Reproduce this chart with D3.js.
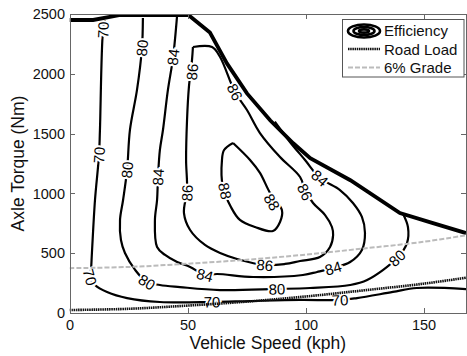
<!DOCTYPE html>
<meta charset="utf-8">
<style>
body { margin: 0; background: #fff; }
svg { font-family: "Liberation Sans", Arial, sans-serif; }
.axis path, .axis line { stroke: #666; shape-rendering: crispEdges; }
.axis text { font-size: 14.5px; fill: #111; }
.contour { fill: none; stroke: #000; stroke-width: 2.2px; }
.clab { font-size: 15px; text-anchor: middle; dominant-baseline: central; fill: #000;
        stroke: #fff; stroke-width: 4px; paint-order: stroke; }
.title { font-size: 17.5px; fill: #111; text-anchor: middle; }
.legend text { font-size: 15px; fill: #111; }
</style>
<body>
<script src="https://d3js.org/d3.v7.min.js"></script>
<script>

// tick values
var speedTicks = [0, 50, 100, 150];
var torqueTicks = [0, 500, 1000, 1500, 2000, 2500];

// max axle torque envelope [speed kph, torque Nm]
var maxTorque = [[0,2450],[10,2450],[21,2490],[50.5,2490],[59.5,2345],[66.7,2087],[75.2,1836],
  [85,1611],[94.8,1419],[102,1294],[119,1110],[140,836],[154,751],[168,668]];

// road load and 6% grade curves
var roadLoad = [[0,25],[25,35],[50,62],[75,95],[100,138],[125,190],[150,245],[168,295]];
var grade6 = [[0,375],[25,385],[50,412],[75,445],[100,488],[125,540],[150,595],[168,650]];

// efficiency contours (%)
var eff70 = [[15,2450],[14.2,2366],[12.9,1530],[12.5,1321],[10.8,945],[9.5,502],[9.1,360],[8.7,301],
  [10.8,234],[15.9,176],[24.4,125],[38.3,92],[60.4,92],[76.5,100],[97.7,109],[114.6,109],
  [121.8,125],[137,176],[147.2,209],[168.4,200]];
var eff80 = [[31.1,2466],[30.7,2216],[28.6,1865],[25.6,1530],[24.4,1196],[22.7,945],[21.4,778],
  [21.8,610],[23.5,502],[27.8,360],[32.8,259],[38.3,234],[46.8,217],[63.8,192],[87.9,201],
  [101.9,209],[118.9,234],[126.1,276],[138.8,460],[143,585],[143.4,719],[141.3,830]];
var eff84 = [[45.6,2490],[43.9,2140],[41.7,1865],[39.6,1530],[38.3,1363],[37.5,1137],[37.1,945],
  [36.2,778],[37.1,552],[40.5,485],[45.6,426],[51.1,385],[57.4,318],[62.5,326],[77.8,301],
  [98.9,318],[104.9,343],[111.7,376],[118.9,426],[123.9,527],[125.2,669],[123.9,803],
  [120.1,920],[114.6,1028],[106.1,1129],[99.8,1279],[93.4,1430],[87,1600]];
var eff86 = [[52.3,2224],[51.9,2115],[50.6,1890],[49.8,1614],[49.4,1279],[49.8,1028],[48.5,836],
  [51.1,694],[57.4,569],[63.8,502],[71,452],[82.8,401],[91.3,410],[97.7,435],[106.1,468],
  [110.4,552],[111.7,652],[111.2,719],[108.3,819],[103.2,920],[99.8,1028],[97.7,1137],
  [89.2,1304],[80.7,1505],[75.2,1697],[70.1,1848],[63.8,2140],[60.4,2224],[52.3,2224]];
var eff88 = [[69.3,1421],[76.5,1279],[80.7,1171],[85,1003],[90,861],[89.2,761],[86.2,686],
  [78.6,719],[72.2,778],[68.4,886],[65,1053],[64.6,1279],[65.5,1363],[69.3,1421]];

var levels = [70, 80, 84, 86, 88];
var contours = [eff70, eff80, eff84, eff86, eff88];

// contour label positions [speed, torque, level]
var effLabels = [[14.2,2366,70],[12.5,1321,70],[8.7,301,70],[60.4,92,70],[114.6,109,70],
  [30.7,2216,80],[24.4,1196,80],[32.8,259,80],[87.9,201,80],[138.8,460,80],
  [43.9,2140,84],[37.5,1137,84],[57.4,318,84],[111.7,376,84],[106.1,1129,84],
  [51.9,2015,86],[49.8,1003,86],[82.8,401,86],[99.8,1012,86],[70.1,1848,86],
  [65.9,1020,88],[85.8,928,88]];

var legendNames = ["Efficiency", "Road Load", "6% Grade"];

var margin = {top: 14, right: 1, bottom: 43, left: 69.5},
    width = 467 - margin.left - margin.right,
    height = 356 - margin.top - margin.bottom;

var x = d3.scaleLinear().domain([0, 168]).range([0, width]);
var y = d3.scaleLinear().domain([0, 2500]).range([height, 0]);

var line = d3.line()
    .x(function(d) { return x(d[0]); })
    .y(function(d) { return y(d[1]); })
    .curve(d3.curveCatmullRom.alpha(0.5));

var svg = d3.select("body").append("svg")
    .attr("width", 467).attr("height", 356);

svg.append("defs").append("clipPath").attr("id", "clip")
  .append("rect").attr("width", width).attr("height", height);

var g = svg.append("g")
    .attr("transform", "translate(" + margin.left + "," + margin.top + ")");

var plot = g.append("g").attr("clip-path", "url(#clip)");

// contour lines
plot.selectAll(".contour").data(contours).enter()
  .append("path").attr("class", "contour").attr("d", line);

// contour labels, rotated along the local direction of the line
effLabels.forEach(function(l) {
  var pts = contours[levels.indexOf(l[2])];
  var px = x(l[0]), py = y(l[1]);
  var best = 0, bd = Infinity;
  pts.forEach(function(p, i) {
    var d = (x(p[0]) - px) * (x(p[0]) - px) + (y(p[1]) - py) * (y(p[1]) - py);
    if (d < bd) { bd = d; best = i; }
  });
  var a = pts[Math.max(best - 1, 0)], b = pts[Math.min(best + 1, pts.length - 1)];
  var ang = Math.atan2(y(b[1]) - y(a[1]), x(b[0]) - x(a[0])) * 180 / Math.PI;
  if (ang >= 90) ang -= 180;
  if (ang < -90) ang += 180;
  plot.append("text").attr("class", "clab")
      .attr("transform", "translate(" + px + "," + py + ") rotate(" + ang + ")")
      .text(l[2]);
});

// max torque envelope
plot.append("path").datum(maxTorque)
    .attr("d", line.curve(d3.curveLinear))
    .attr("fill", "none").attr("stroke", "#000").attr("stroke-width", 3.8);

// road load
plot.append("path").datum(roadLoad)
    .attr("d", line.curve(d3.curveCatmullRom))
    .attr("fill", "none").attr("stroke", "#111").attr("stroke-width", 2.6)
    .attr("stroke-dasharray", "1.5,0.7");

// 6% grade
plot.append("path").datum(grade6)
    .attr("d", line)
    .attr("fill", "none").attr("stroke", "#bbb").attr("stroke-width", 2)
    .attr("stroke-dasharray", "5,2");

// axes (ticks inside, box on)
var fmt = d3.format("d");
g.append("g").attr("class", "axis")
    .attr("transform", "translate(0," + height + ")")
    .call(d3.axisBottom(x).tickValues(speedTicks).tickFormat(fmt)
      .tickSize(-5).tickSizeOuter(0).tickPadding(7));
g.append("g").attr("class", "axis")
    .call(d3.axisTop(x).tickValues(speedTicks).tickSize(-5).tickSizeOuter(0).tickFormat(""));
g.append("g").attr("class", "axis")
    .call(d3.axisLeft(y).tickValues(torqueTicks).tickFormat(fmt)
      .tickSize(-5).tickSizeOuter(0).tickPadding(4.5));
g.append("g").attr("class", "axis")
    .attr("transform", "translate(" + width + ",0)")
    .call(d3.axisRight(y).tickValues(torqueTicks).tickSize(-5).tickSizeOuter(0).tickFormat(""));

// axis titles
svg.append("text").attr("class", "title")
    .attr("x", margin.left + width / 2).attr("y", 349)
    .text("Vehicle Speed (kph)");
svg.append("text").attr("class", "title")
    .attr("transform", "translate(24," + (margin.top + height / 2) + ") rotate(-90)")
    .text("Axle Torque (Nm)");

// legend
var leg = svg.append("g").attr("class", "legend");
leg.append("rect").attr("x", 342.5).attr("y", 19.5).attr("width", 121.5).attr("height", 57.5)
    .attr("fill", "#fff").attr("stroke", "#555").attr("stroke-width", 1);
[[16, 6.5], [10.5, 4], [5, 1.6]].forEach(function(r) {
  leg.append("ellipse").attr("cx", 364).attr("cy", 31)
      .attr("rx", r[0]).attr("ry", r[1])
      .attr("fill", "none").attr("stroke", "#000").attr("stroke-width", 2.6);
});
leg.append("line").attr("x1", 348).attr("x2", 380).attr("y1", 49).attr("y2", 49)
    .attr("stroke", "#111").attr("stroke-width", 2.6).attr("stroke-dasharray", "1.5,0.7");
leg.append("line").attr("x1", 348).attr("x2", 380).attr("y1", 67.5).attr("y2", 67.5)
    .attr("stroke", "#bbb").attr("stroke-width", 2).attr("stroke-dasharray", "5,2");
leg.selectAll(".lt").data(legendNames).enter().append("text")
    .attr("x", 384).attr("y", function(d, i) { return [36, 54.5, 73][i]; })
    .text(function(d) { return d; });

</script>
</body>
